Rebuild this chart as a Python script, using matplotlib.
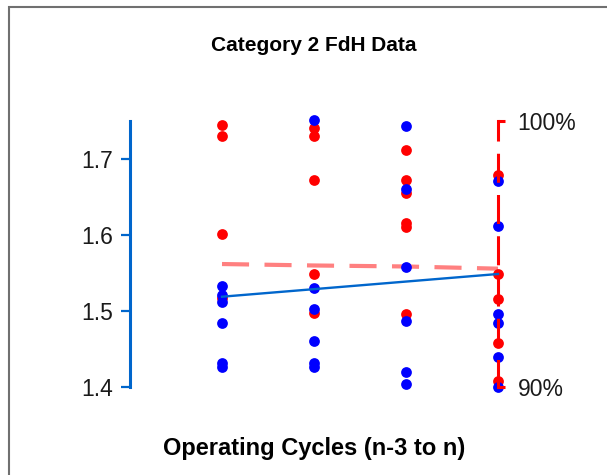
import numpy as np
import matplotlib
matplotlib.use('Agg')
import matplotlib.pyplot as plt
from matplotlib.patches import Rectangle
from matplotlib.ticker import FuncFormatter

plt.rcParams['font.family'] = ['Liberation Sans', 'DejaVu Sans']

# data
cycles = [1, 2, 3, 4]
red_vals = [
    [1.744, 1.730, 1.601, 1.517],
    [1.741, 1.730, 1.672, 1.548, 1.497],
    [1.711, 1.672, 1.655, 1.615, 1.610, 1.496],
    [1.678, 1.548, 1.515, 1.458, 1.407],
]
blue_vals = [
    [1.533, 1.521, 1.511, 1.484, 1.431, 1.426],
    [1.751, 1.530, 1.502, 1.460, 1.431, 1.426],
    [1.743, 1.660, 1.558, 1.487, 1.419, 1.403],
    [1.671, 1.611, 1.496, 1.484, 1.439, 1.399],
]
pink_trend = [1.5614, 1.5595, 1.5582, 1.5553]
blue_trend_x = [1, 4]
blue_trend = [1.5184, 1.5483]

y_ticks = [1.4, 1.5, 1.6, 1.7]
pct_ticks = [90, 100]

title = 'Category 2 FdH Data'
xlabel = 'Operating Cycles (n-3 to n)'

spine_blue = '#0066CC'

fig = plt.figure(figsize=(6.07, 4.75), dpi=100)
ax = fig.add_axes([130/607, 1 - 386.7/475, 368/607, 266/475])

# scatter: red below, blue on top
for i, c in enumerate(cycles):
    ax.scatter([c]*len(red_vals[i]), red_vals[i], s=60, color='#FF0000',
               linewidths=0, zorder=3, clip_on=False)
for i, c in enumerate(cycles):
    ax.scatter([c]*len(blue_vals[i]), blue_vals[i], s=60, color='#0000FF',
               linewidths=0, zorder=4, clip_on=False)

ax.plot(cycles, pink_trend, color='#FF8080', lw=3, linestyle=(0, (6.5, 3.7)),
        zorder=2, clip_on=False)
ax.plot(blue_trend_x, blue_trend, color=spine_blue, lw=1.7, zorder=5, clip_on=False)

ax.set_xlim(0, 4)
ax.set_ylim(1.4, 1.75)
ax.set_yticks(y_ticks)
ax.set_xticks([])
for s in ['top', 'right', 'bottom']:
    ax.spines[s].set_visible(False)
ax.spines['left'].set_color(spine_blue)
ax.spines['left'].set_linewidth(2.2)
ax.tick_params(axis='y', colors=spine_blue, width=1.6, length=6.5, pad=6,
               labelsize=16.5, labelcolor='#1a1a1a')

# right axis: percentage range drawn as a dashed red spine
ax2 = ax.twinx()
ax2.set_ylim(90, 100)
ax2.set_yticks(pct_ticks)
ax2.yaxis.set_major_formatter(FuncFormatter(lambda v, p: '%d%%' % v))
for s in ['top', 'left', 'bottom']:
    ax2.spines[s].set_visible(False)
ax2.spines['right'].set_color('#FF0000')
ax2.spines['right'].set_linewidth(2.2)
ax2.spines['right'].set_linestyle((0, (8.5, 5)))
ax2.tick_params(axis='y', colors='#FF0000', width=2.2, length=5, pad=9,
                labelsize=16.5, labelcolor='#1a1a1a')

ax.set_title(title, fontsize=15, fontweight='bold', pad=50)
ax.set_xlabel(xlabel, fontsize=17, fontweight='bold', labelpad=36)

# outer frame, only top and left edges fall inside the picture
fig.patches.append(Rectangle((9/607, -0.1), 1.2, 1.1 - 7/475, transform=fig.transFigure,
                             fill=False, edgecolor='#707070', lw=1.5))

fig.savefig('out.png', dpi=100)
